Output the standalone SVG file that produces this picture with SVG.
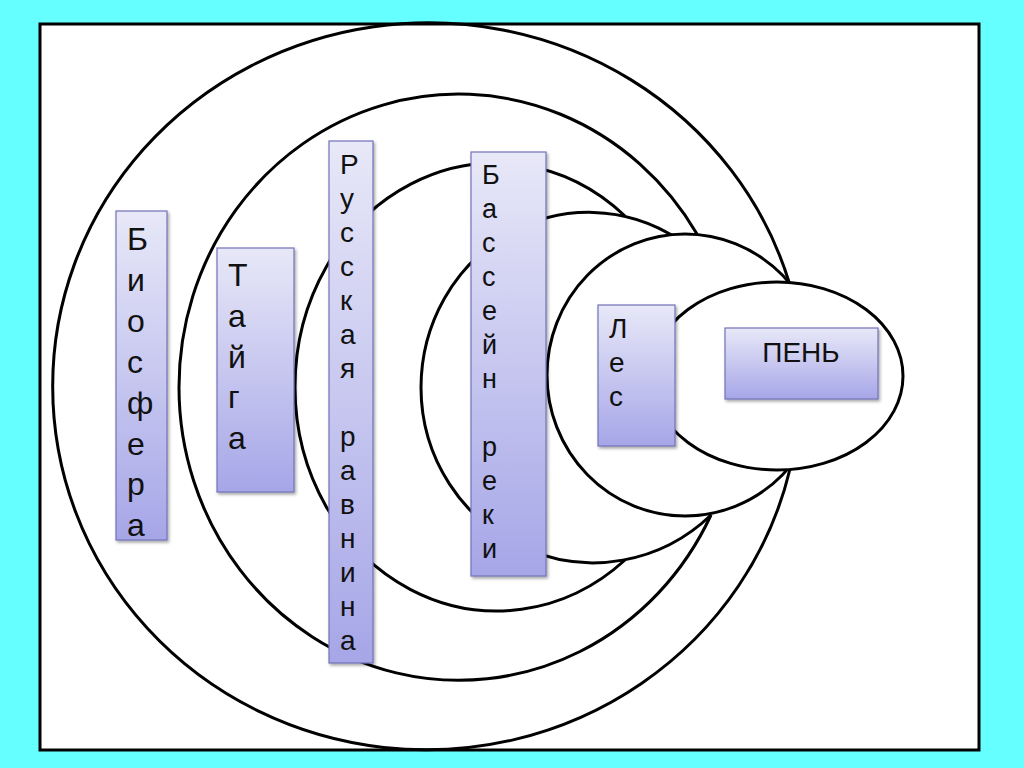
<svg xmlns="http://www.w3.org/2000/svg" width="1024" height="768" viewBox="0 0 1024 768">
  <defs>
    <linearGradient id="boxGrad" x1="0" y1="0" x2="0" y2="1">
      <stop offset="0" stop-color="#E8E8F8"/>
      <stop offset="1" stop-color="#A6A6E8"/>
    </linearGradient>
    <filter id="shadow" x="-20%" y="-20%" width="140%" height="140%">
      <feDropShadow dx="1.5" dy="2" stdDeviation="1.5" flood-color="#000" flood-opacity="0.35"/>
    </filter>
  </defs>
  <style>
    .curve { fill: none; stroke: #000; stroke-width: 3; }
    .oval { fill: #fff; stroke: #000; stroke-width: 3; }
    .box { fill: url(#boxGrad); stroke: #7272B8; stroke-width: 1.2; filter: url(#shadow); }
    .lbl { font-family: "Liberation Sans", Arial, sans-serif; fill: #111; }
  </style>

  <rect x="0" y="0" width="1024" height="768" fill="#66FFFF"/>
  <rect x="40" y="24" width="939" height="726" fill="#fff" stroke="#000" stroke-width="3"/>

  <g id="connectors">
    <path class="curve" d="M 789 282 A 376 363 0 0 0 52.7 387 A 373.5 363 0 0 0 790 469"/>
    <path class="curve" d="M 697 234 A 279.6 293 0 0 0 179 387 A 280 293 0 0 0 711 515"/>
    <path class="curve" d="M 625 216 A 200.5 224 0 0 0 295 387 A 201.8 224 0 0 0 625 560"/>
    <path class="curve" d="M 678 239 A 168 175.5 0 0 0 421 387.5 A 172 175.5 0 0 0 711 515"/>
  </g>

  <g id="les-oval">
    <ellipse class="oval" cx="685" cy="375" rx="138" ry="141"/>
  </g>
  <g id="pen-oval">
    <ellipse class="oval" cx="777" cy="376" rx="126" ry="94"/>
  </g>

  <g id="biosfera">
    <rect class="box" x="116" y="211" width="51" height="329"/>
    <text class="lbl" font-size="32" x="127" y="250">
      <tspan x="127" y="250">Б</tspan>
      <tspan x="127" y="291">и</tspan>
      <tspan x="127" y="332">о</tspan>
      <tspan x="127" y="373">с</tspan>
      <tspan x="127" y="414">ф</tspan>
      <tspan x="127" y="455">е</tspan>
      <tspan x="127" y="495">р</tspan>
      <tspan x="127" y="536">а</tspan>
    </text>
  </g>

  <g id="taiga">
    <rect class="box" x="217" y="248" width="77" height="244"/>
    <text class="lbl" font-size="32">
      <tspan x="228" y="286">Т</tspan>
      <tspan x="228" y="327">а</tspan>
      <tspan x="228" y="368">й</tspan>
      <tspan x="228" y="408">г</tspan>
      <tspan x="228" y="449">а</tspan>
    </text>
  </g>

  <g id="russkaya-ravnina">
    <rect class="box" x="329" y="141" width="44" height="522"/>
    <text class="lbl" font-size="28">
      <tspan x="340" y="174">Р</tspan>
      <tspan x="340" y="208">у</tspan>
      <tspan x="340" y="242">с</tspan>
      <tspan x="340" y="276">с</tspan>
      <tspan x="340" y="310">к</tspan>
      <tspan x="340" y="344">а</tspan>
      <tspan x="340" y="378">я</tspan>
      <tspan x="340" y="446">р</tspan>
      <tspan x="340" y="480">а</tspan>
      <tspan x="340" y="514">в</tspan>
      <tspan x="340" y="548">н</tspan>
      <tspan x="340" y="582">и</tspan>
      <tspan x="340" y="616">н</tspan>
      <tspan x="340" y="650">а</tspan>
    </text>
  </g>

  <g id="bassein-reki">
    <rect class="box" x="471" y="152" width="75" height="424"/>
    <text class="lbl" font-size="27">
      <tspan x="482" y="184">Б</tspan>
      <tspan x="482" y="218">а</tspan>
      <tspan x="482" y="252">с</tspan>
      <tspan x="482" y="286">с</tspan>
      <tspan x="482" y="320">е</tspan>
      <tspan x="482" y="354">й</tspan>
      <tspan x="482" y="388">н</tspan>
      <tspan x="482" y="456">р</tspan>
      <tspan x="482" y="490">е</tspan>
      <tspan x="482" y="524">к</tspan>
      <tspan x="482" y="558">и</tspan>
    </text>
  </g>

  <g id="les">
    <rect class="box" x="598" y="305" width="77" height="141"/>
    <text class="lbl" font-size="28">
      <tspan x="609" y="338">Л</tspan>
      <tspan x="609" y="372">е</tspan>
      <tspan x="609" y="406">с</tspan>
    </text>
  </g>

  <g id="pen">
    <rect class="box" x="725" y="328" width="153" height="71"/>
    <text class="lbl" font-size="28" x="801" y="362" text-anchor="middle">ПЕНЬ</text>
  </g>
</svg>
